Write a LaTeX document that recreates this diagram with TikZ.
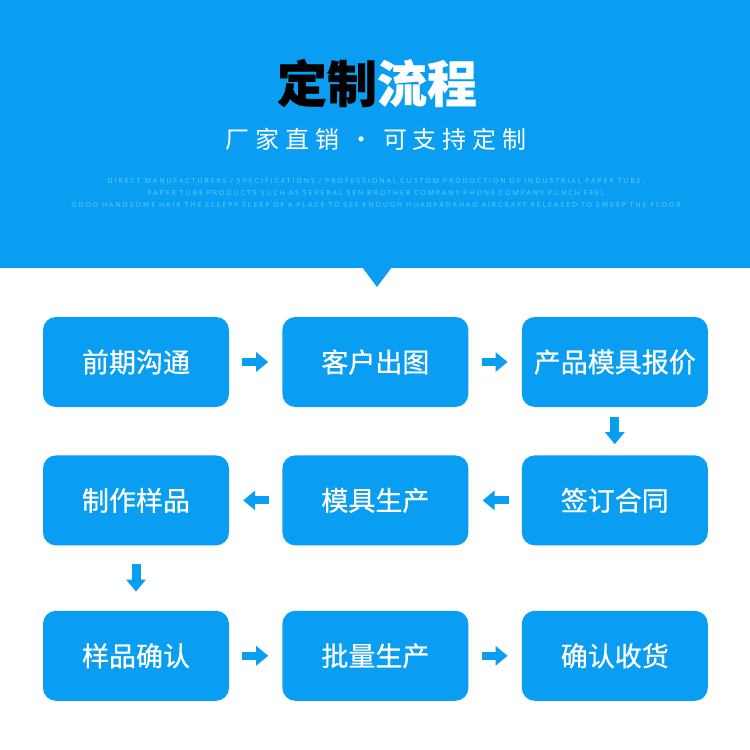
\documentclass[tikz,border=0pt]{standalone}
\usepackage{fontspec}
\usepackage{tikz}
\usetikzlibrary{positioning, arrows.meta}
\newfontfamily\cjk[FakeBold=0.6]{Noto Sans CJK SC}
\newfontfamily\cjkwide[LetterSpace=24]{Noto Sans CJK SC}
\newfontfamily\mottofont[LetterSpace=28]{Open Sans}
\definecolor{skyblue}{HTML}{0A9EF2}
\definecolor{paleblue}{HTML}{6CC6FA}

\begin{document}
\begin{tikzpicture}[x=1pt, y=-1pt, node distance=48pt and 53pt,
  stepbox/.style={fill=skyblue, rounded corners=13pt, minimum width=186pt, minimum height=90pt, inner sep=0pt, text=white, font=\cjk\fontsize{27}{30}\selectfont},
  flow/.style={draw=skyblue, line width=8pt, -{Triangle[length=12pt, width=19pt]}, shorten <=13pt, shorten >=14pt}]
\fill[white] (0,0) rectangle (750,750);
\useasboundingbox (0,0) rectangle (750,750);
\fill[skyblue] (0,0) rectangle (750,268);
\fill[skyblue] (362,267) -- (377,287) -- (392,267) -- cycle;
\node[font=\cjk\bfseries\fontsize{50}{54}\selectfont] (title) at (377,83) {定制\textcolor{white}{流程}};
\node[text=white, font=\cjkwide\fontsize{24}{28}\selectfont] (slogan) at (376,139) {厂家直销\hspace{10pt}·\hspace{10pt}可支持定制};
\node[text=paleblue, align=center, font=\mottofont\fontsize{7}{12}\selectfont] (motto) at (376,193) {%
DIRECT MANUFACTURERS / SPECIFICATIONS / PROFESSIONAL CUSTOM PRODUCTION OF INDUSTRIAL PAPER TUBE,\\
PAPER TUBE PRODUCTS SUCH AS SEVERAL SEN BROTHER COMPANY PHONE COMPANY PUNCH FEEL\\
GOOD HANDSOME HAIR THE SLEEPY SLEEP OF A PLACE TO SEE ENOUGH HUANFADAHAO AIRCRAFT RELEASED TO SWEEP THE FLOOR};
\node[stepbox] (goutong) at (136,362) {前期沟通};
\node[stepbox, right=of goutong] (chutu) {客户出图};
\node[stepbox, right=of chutu] (baojia) {产品模具报价};
\node[stepbox, below=of baojia] (hetong) {签订合同};
\node[stepbox, left=of hetong] (muju) {模具生产};
\node[stepbox, left=of muju] (zhizuo) {制作样品};
\node[stepbox, below=65pt of zhizuo] (queren) {样品确认};
\node[stepbox, right=of queren] (piliang) {批量生产};
\node[stepbox, right=of piliang] (shouhuo) {确认收货};
\draw[flow] (goutong) -- (chutu);
\draw[flow] (chutu) -- (baojia);
\draw[flow, line width=9pt, shorten <=10pt, shorten >=11pt] (baojia) -- (hetong);
\draw[flow] (hetong) -- (muju);
\draw[flow] (muju) -- (zhizuo);
\draw[flow, line width=9pt, shorten <=18pt, shorten >=19pt] (zhizuo) -- (queren);
\draw[flow] (queren) -- (piliang);
\draw[flow] (piliang) -- (shouhuo);
\end{tikzpicture}
\end{document}
